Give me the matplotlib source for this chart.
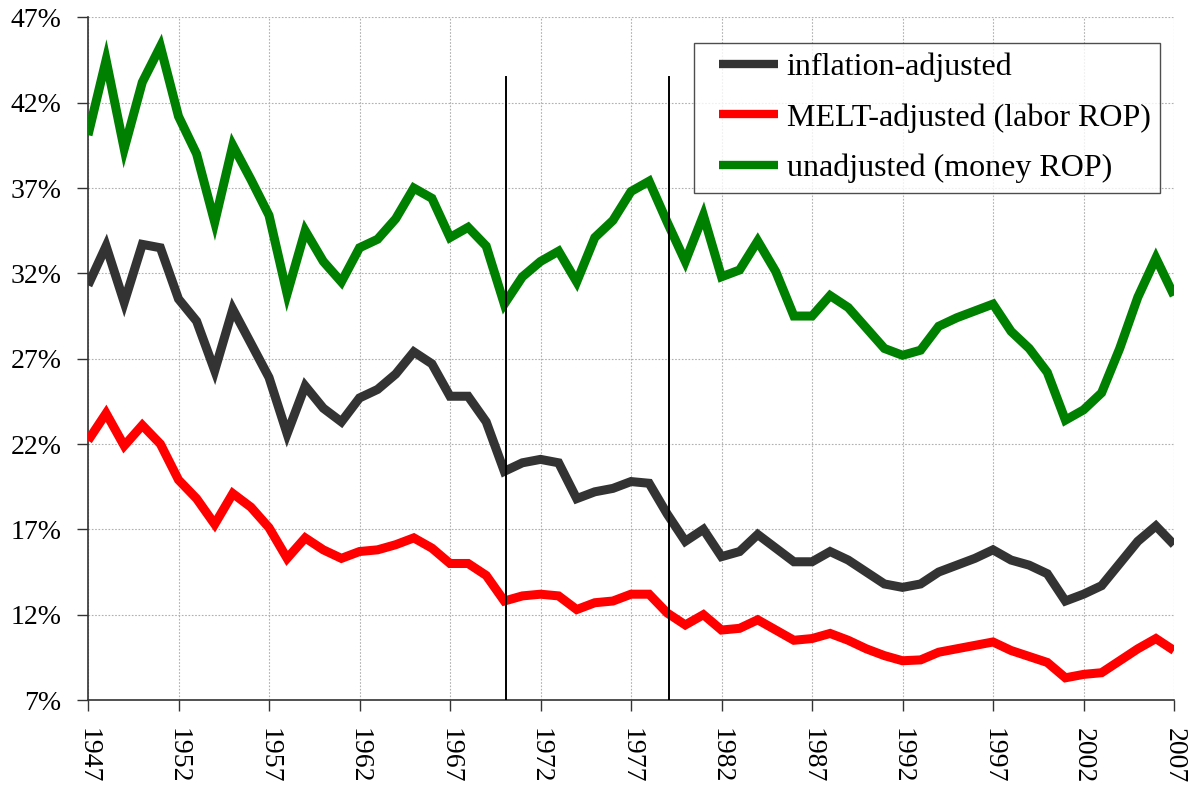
import matplotlib
matplotlib.use("Agg")
import matplotlib.pyplot as plt
from matplotlib.lines import Line2D
from matplotlib.legend_handler import HandlerLine2D
import numpy as np

years = list(range(1947, 2008))

inflation_adjusted = [31.3, 33.6, 30.3, 33.7, 33.5, 30.5, 29.2, 26.3, 29.9, 27.9,
                      25.9, 22.6, 25.4, 24.1, 23.3, 24.7, 25.2, 26.1, 27.4, 26.7,
                      24.8, 24.8, 23.3, 20.4, 20.9, 21.1, 20.9, 18.8, 19.2, 19.4,
                      19.8, 19.7, 17.9, 16.3, 17.0, 15.4, 15.7, 16.7, 15.9, 15.1,
                      15.1, 15.7, 15.2, 14.5, 13.8, 13.6, 13.8, 14.5, 14.9, 15.3,
                      15.8, 15.2, 14.9, 14.4, 12.8, 13.2, 13.7, 15.0, 16.3, 17.2,
                      16.1]

melt_adjusted = [22.2, 23.8, 21.9, 23.1, 22.0, 19.9, 18.8, 17.3, 19.1, 18.3,
                 17.1, 15.3, 16.5, 15.8, 15.3, 15.7, 15.8, 16.1, 16.5, 15.9,
                 15.0, 15.0, 14.3, 12.8, 13.1, 13.2, 13.1, 12.3, 12.7, 12.8,
                 13.2, 13.2, 12.1, 11.4, 12.0, 11.1, 11.2, 11.7, 11.1, 10.5,
                 10.6, 10.9, 10.5, 10.0, 9.6, 9.3, 9.35, 9.8, 10.0, 10.2,
                 10.4, 9.9, 9.55, 9.2, 8.3, 8.5, 8.6, 9.3, 10.0, 10.6,
                 9.9]

unadjusted = [40.1, 44.5, 39.3, 43.2, 45.3, 41.2, 39.0, 35.0, 39.5, 37.5,
              35.4, 30.8, 34.5, 32.7, 31.5, 33.5, 34.0, 35.2, 37.0, 36.4,
              34.1, 34.7, 33.6, 30.2, 31.8, 32.7, 33.3, 31.5, 34.1, 35.1,
              36.8, 37.4, 35.0, 32.7, 35.4, 31.8, 32.2, 33.9, 32.1, 29.5,
              29.5, 30.7, 30.0, 28.8, 27.6, 27.2, 27.5, 28.9, 29.4, 29.8,
              30.2, 28.6, 27.6, 26.2, 23.4, 24.0, 25.0, 27.6, 30.6, 32.9,
              30.7]

series_labels = ["inflation-adjusted", "MELT-adjusted (labor ROP)", "unadjusted (money ROP)"]
series_colors = ["#333333", "#ff0000", "#008000"]

marker_years = [1970.1, 1979.1]
marker_top = 43.5

x_ticks = list(range(1947, 2008, 5))
y_ticks = list(range(7, 48, 5))

plt.rcParams['font.family'] = ['Liberation Serif', 'DejaVu Serif']

fig = plt.figure(figsize=(11.88, 7.86), dpi=100)
ax = fig.add_axes([88/1188, 1 - 700/786, (1174-88)/1188, (700-17.4)/786])

for vals, lab, col in zip([inflation_adjusted, melt_adjusted, unadjusted], series_labels, series_colors):
    ax.plot(years, vals, color=col, lw=6.5, label=lab, solid_joinstyle='miter', solid_capstyle='butt', zorder=3)

for xv in marker_years:
    ax.plot([xv, xv], [7, marker_top], color='black', lw=1.4, zorder=4)

ax.set_xlim(1947, 2007)
ax.set_ylim(7, 47)
ax.set_xticks(x_ticks)
ax.set_yticks(y_ticks)
ax.set_yticklabels([f"{v}%" for v in y_ticks], fontsize=20)
ax.set_xticklabels([str(v) for v in x_ticks], rotation=270, fontsize=20, va='top', ha='center')

ax.grid(True, color='#b0b0b0', linestyle=(0, (1.5, 1.5)), linewidth=0.8, zorder=0)
for s in ['top', 'right']:
    ax.spines[s].set_visible(False)
for s in ['left', 'bottom']:
    ax.spines[s].set_color('#333333')
    ax.spines[s].set_linewidth(1.2)
ax.tick_params(axis='both', direction='out', length=8, width=1.0, color='#333333')
ax.tick_params(axis='y', pad=11)
ax.tick_params(axis='x', pad=12)

leg = ax.legend(loc='upper right', bbox_to_anchor=(1160/1188, 1 - 43/786), bbox_transform=fig.transFigure,
                fontsize=23, frameon=True, fancybox=False, edgecolor='#222222', handlelength=2.32,
                handletextpad=0.28, borderpad=0.3, labelspacing=0.66, borderaxespad=0,
                handler_map={Line2D: HandlerLine2D(xpad=0.47)})
leg.get_frame().set_linewidth(1.0)
for lh in leg.get_lines():
    lh.set_linewidth(6)

fig.savefig("out.png", dpi=100)
